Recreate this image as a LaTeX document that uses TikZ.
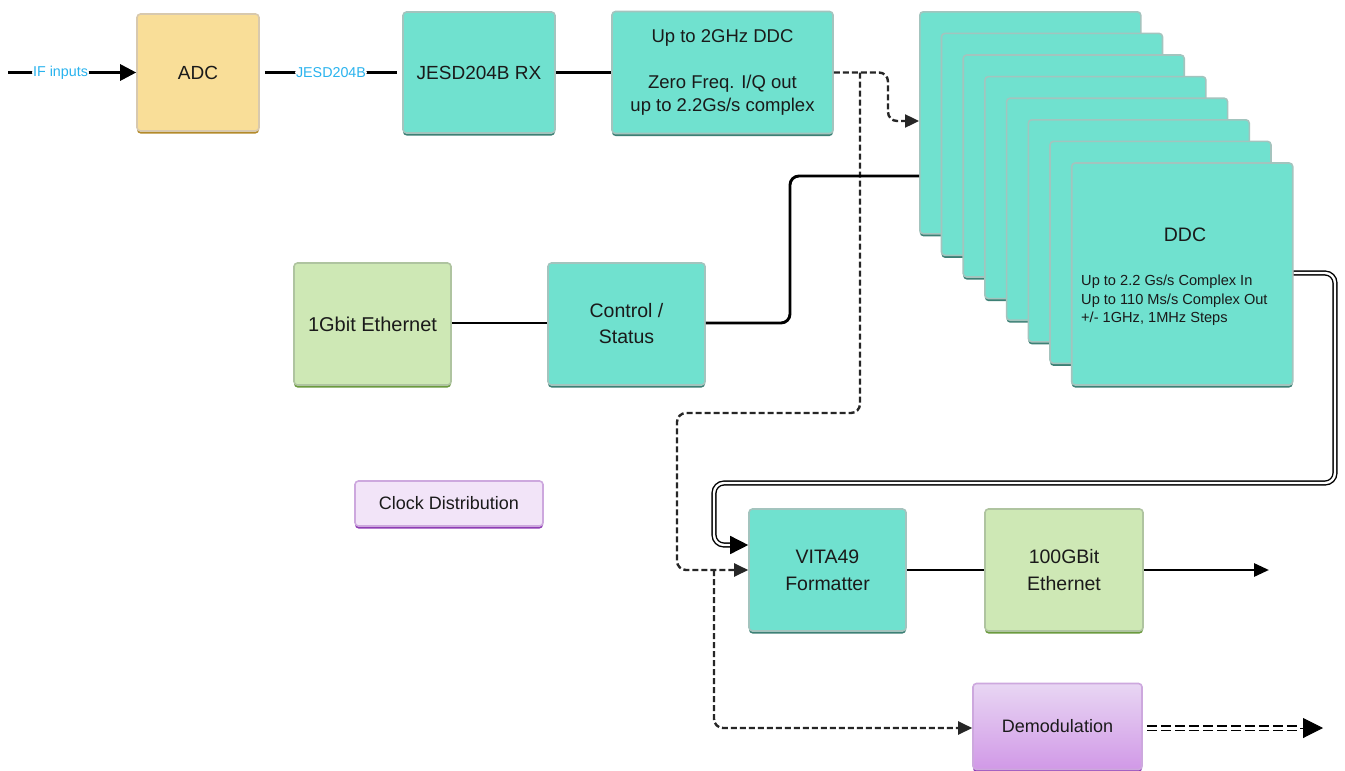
\documentclass[tikz,border=0pt]{standalone}
\usepackage{fontspec}
\setmainfont{Liberation Sans}
\usetikzlibrary{arrows.meta,shadows,calc}
\definecolor{tealfill}{HTML}{70E1CF}
\definecolor{tealedge}{HTML}{A3C4BE}
\definecolor{tealshadow}{HTML}{3C8075}
\definecolor{adcfill}{HTML}{F9DE98}
\definecolor{adcedge}{HTML}{D8C9AE}
\definecolor{adcshadow}{HTML}{B38A2A}
\definecolor{grnfill}{HTML}{CEE8B5}
\definecolor{grnedge}{HTML}{AFC4A0}
\definecolor{grnshadow}{HTML}{6B9A3E}
\definecolor{purfill}{HTML}{F2E4F8}
\definecolor{puredge}{HTML}{CDA8DE}
\definecolor{purshadow}{HTML}{8E3DB4}
\definecolor{demtop}{HTML}{E8D6F3}
\definecolor{dembot}{HTML}{D199E7}
\definecolor{lblblue}{HTML}{29B3EE}
\definecolor{txt}{HTML}{1A1A1A}
\tikzset{
  blk/.style={rectangle, rounded corners=3.5pt, line width=1.6pt, align=center,
    font=\fontsize{19}{26}\selectfont, text=txt, inner sep=2pt},
  tealbox/.style={blk, fill=tealfill, draw=tealedge,
    drop shadow={shadow xshift=0pt, shadow yshift=-2.5pt, fill=tealshadow, opacity=1}},
  adcbox/.style={blk, fill=adcfill, draw=adcedge,
    drop shadow={shadow xshift=0pt, shadow yshift=-2.5pt, fill=adcshadow, opacity=1}},
  grnbox/.style={blk, fill=grnfill, draw=grnedge,
    drop shadow={shadow xshift=0pt, shadow yshift=-2.5pt, fill=grnshadow, opacity=1}},
  clkbox/.style={blk, fill=purfill, draw=puredge,
    drop shadow={shadow xshift=0pt, shadow yshift=-2.5pt, fill=purshadow, opacity=1}},
  dembox/.style={blk, top color=demtop, bottom color=dembot, draw=puredge,
    drop shadow={shadow xshift=0pt, shadow yshift=-2.5pt, fill=purshadow, opacity=1}},
  wire/.style={line width=2.9pt, rounded corners=9pt},
  dwire/.style={line width=2.4pt, dash pattern=on 6pt off 3pt, rounded corners=9pt, draw=black!85},
  lbl/.style={font=\fontsize{14.3}{17}\selectfont, text=lblblue, fill=white, inner sep=1pt},
  tipbig/.style={-{Triangle[length=16pt,width=16pt]}},
  tipmid/.style={-{Triangle[length=14pt,width=13pt]}},
}
\begin{document}
\begin{tikzpicture}[x=1pt,y=-1pt]
\useasboundingbox[fill=white] (0,0) rectangle (1345,771);

% --- boxes ---
\node[adcbox, minimum width=122pt, minimum height=117pt] (adc) at (198,72.5) {ADC};
\node[tealbox, minimum width=152pt, minimum height=121pt] (jesd) at (479,72.5) {JESD204B RX};
\node[tealbox, minimum width=221pt, minimum height=122pt, font=\fontsize{18.5}{23}\selectfont] (ddcw) at (722.5,72.5)
  {Up to 2GHz DDC\\[23pt]Zero Freq. I/Q out\\up to 2.2Gs/s complex};

\foreach \i in {0,...,7}
  \node[tealbox, minimum width=221pt, minimum height=222pt, anchor=north west] (ddc\i)
    at ({919+21.7*\i},{11+21.6*\i}) {};
\node[font=\fontsize{19.5}{22}\selectfont, text=txt] (ddctitle) at (1185,235) {DDC};
\node[font=\fontsize{14.6}{18.5}\selectfont, text=txt, align=left, anchor=west, inner sep=0pt] (ddcinfo) at (1081,300.5)
  {Up to 2.2 Gs/s Complex In\\Up to 110 Ms/s Complex Out\\+/- 1GHz, 1MHz Steps};

\node[grnbox, minimum width=157pt, minimum height=122pt, font=\fontsize{20}{26}\selectfont] (eth1) at (372.5,324) {1Gbit Ethernet};
\node[tealbox, minimum width=157pt, minimum height=122pt, font=\fontsize{19.5}{26}\selectfont] (ctrl) at (626.5,324) {Control /\\Status};
\node[clkbox, minimum width=188pt, minimum height=45pt, font=\fontsize{18}{20}\selectfont] (clk) at (449,503.5) {Clock Distribution};
\node[tealbox, minimum width=157pt, minimum height=122pt, font=\fontsize{19.5}{27}\selectfont] (vita) at (827.5,570) {VITA49\\Formatter};
\node[grnbox, minimum width=158pt, minimum height=122pt, font=\fontsize{19.5}{27}\selectfont] (eth100) at (1064,570) {100GBit\\Ethernet};
\node[dembox, minimum width=169pt, minimum height=86pt, font=\fontsize{18}{20}\selectfont] (demod) at (1057.5,726.5) {Demodulation};

% --- coordinates ---
\coordinate (ifin) at (8,72.5);
\coordinate (jA) at (860,72.5);
\coordinate (dA) at (888,72.5);
\coordinate (dB) at (888,121);
\coordinate (cA) at (790,323);
\coordinate (cB) at (790,176);
\coordinate (bA) at (860,413);
\coordinate (bB) at (677,413);
\coordinate (bC) at (677,570);
\coordinate (bD) at (714,570);
\coordinate (bE) at (714,728);
\coordinate (wA) at (1335,273);
\coordinate (wB) at (1335,483);
\coordinate (wC) at (714,483);
\coordinate (wD) at (714,545);
\coordinate (wE) at (736,545);
\coordinate (out100) at (1269,570);
\coordinate (dmA) at (1300,728);
\coordinate (dmB) at (1323,728);

% --- connectors ---
\draw[wire, tipbig] (ifin) -- node[lbl, pos=0.41] {IF inputs} (adc.west);
\draw[wire] ([xshift=5pt]adc.east) -- node[lbl] {JESD204B} ([xshift=-5pt]jesd.west);
\draw[wire] (jesd.east) -- (ddcw.west);
\draw[dwire, tipmid] (ddcw.east) -- (dA) -- (dB) -- (ddc0.west |- dB);
\draw[dwire, tipmid] (jA) -- (bA) -- (bB) -- (bC) -- (vita.west |- bC);
\draw[dwire, tipmid] (bD) -- (bE) -- (demod.west |- bE);
\draw[wire] (eth1.east |- cA) -- (ctrl.west |- cA);
\draw[wire] (ctrl.east |- cA) -- (cA) -- (cB) -- (ddc0.west |- cB);
\draw[line width=1.4pt, double=white, double distance=2.4pt, rounded corners=10pt]
  (ddc7.east |- wA) -- (wA) -- (wB) -- (wC) -- (wD) -- (wE);
\draw[line width=1.5pt, -{Triangle[length=18pt,width=18pt]}] (wE) -- (vita.west |- wE);
\draw[wire] (vita.east |- bC) -- (eth100.west |- bC);
\draw[wire, -{Triangle[length=15pt,width=13pt]}] (eth100.east |- bC) -- (out100);
\draw[line width=1.8pt, double=white, double distance=3pt, dash pattern=on 10pt off 4pt] ([xshift=4pt]demod.east |- dmA) -- (dmA);
\draw[line width=1pt, -{Triangle[length=20pt,width=20pt]}] (dmA) -- (dmB);
\end{tikzpicture}
\end{document}
